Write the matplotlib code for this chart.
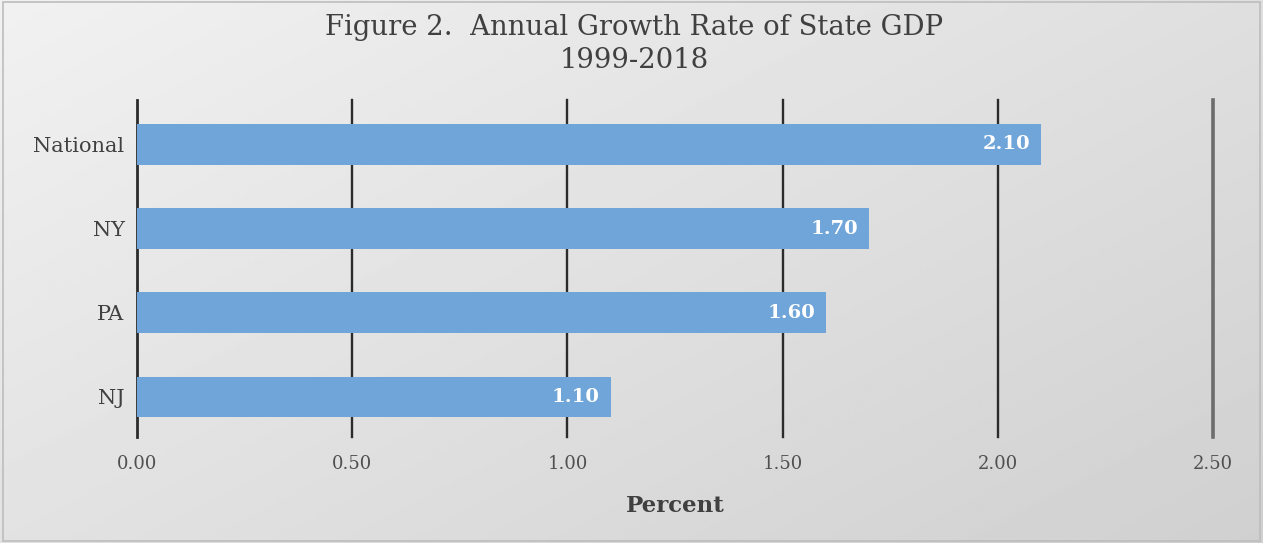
import numpy as np
import matplotlib
matplotlib.use("Agg")
import matplotlib.pyplot as plt
from matplotlib.patches import Rectangle

# Growth rates by region
regions = ["National", "NY", "PA", "NJ"]
growth = [2.10, 1.70, 1.60, 1.10]
ticks = [0.0, 0.5, 1.0, 1.5, 2.0, 2.5]

plt.rcParams["font.family"] = ["DejaVu Serif"]

fig = plt.figure(figsize=(12.63, 5.43), dpi=100)

# Diagonal light-to-gray gradient behind everything
bg = fig.add_axes([0, 0, 1, 1], zorder=-10)
yy, xx = np.mgrid[0:1:200j, 0:1:400j]
shade = 0.945 - 0.13 * (0.55 * xx + 0.45 * yy)
bg.imshow(shade, cmap="gray", vmin=0, vmax=1, aspect="auto", extent=[0, 1, 1, 0])
bg.set_xlim(0, 1)
bg.set_ylim(1, 0)
bg.axis("off")
bg.add_patch(Rectangle((0.002, 0.004), 0.996, 0.992, fill=False,
                       edgecolor="#bdbdbd", linewidth=1.2))

ax = fig.add_axes([0.1085, 0.195, 0.852, 0.621])
ax.patch.set_alpha(0)

y = np.arange(len(regions))
ax.barh(y, growth, height=0.48, color="#6fa5d9", zorder=3)

for yi, v in zip(y, growth):
    ax.text(v - 0.025, yi, f"{v:.2f}", ha="right", va="center",
            color="white", fontsize=14, fontweight="bold", zorder=4)

for t in ticks:
    if t == 2.5:
        col, lw = "#6c6c6c", 2.6
    elif t == 0:
        col, lw = "#2b2b2b", 2.0
    else:
        col, lw = "#2b2b2b", 1.7
    ax.axvline(t, color=col, linewidth=lw, zorder=2, clip_on=False)

ax.set_xlim(0, 2.5)
ax.set_ylim(3.48, -0.53)
ax.set_yticks(y)
ax.set_yticklabels(regions, fontsize=15, color="#404040")
ax.set_xticks(ticks)
ax.set_xticklabels([f"{t:.2f}" for t in ticks], fontsize=13, color="#505050")
ax.tick_params(axis="both", length=0)
ax.tick_params(axis="x", pad=13)
ax.tick_params(axis="y", pad=9)
for s in ax.spines.values():
    s.set_visible(False)

ax.set_xlabel("Percent", fontsize=16.5, fontweight="bold", color="#404040", labelpad=16)

fig.text(0.502, 0.95, "Figure 2.  Annual Growth Rate of State GDP", ha="center",
         va="center", fontsize=19.8, color="#404040")
fig.text(0.502, 0.888, "1999-2018", ha="center", va="center",
         fontsize=19.8, color="#404040")

fig.savefig("out.png", dpi=100)
